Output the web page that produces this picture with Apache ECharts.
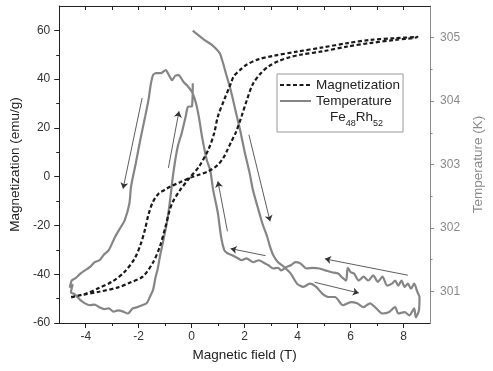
<!DOCTYPE html>
<html>
<head>
<meta charset="utf-8">
<script src="https://cdn.jsdelivr.net/npm/echarts@6/dist/echarts.min.js"></script>
<style>
html,body{margin:0;padding:0;background:#fff;}
#chart{width:493px;height:371px;}
</style>
</head>
<body>
<div id="chart"></div>
<script>
// ---- data ----
// Magnetization branch A (lower-left start, plateau near 0, steep rise at ~2 T)
const magBranchA = [[-4.55,-49.3],[-4.0,-48],[-3.5,-45.6],[-3.0,-43],[-2.55,-39.2],[-2.15,-33.5],[-1.92,-27.5],[-1.76,-21.5],[-1.63,-15.5],[-1.47,-10.5],[-1.25,-7],[-1.0,-5.3],[-0.8,-4],[-0.44,-2.3],[-0.08,-0.5],[0.28,0.8],[0.63,2.2],[0.99,4.9],[1.2,7.8],[1.35,11],[1.5,14.5],[1.68,18.5],[1.89,25],[2.07,31],[2.31,38],[2.6,42.3],[2.9,45.2],[3.3,47.5],[3.7,49],[4.1,50],[4.94,51.4],[5.89,53.4],[6.73,54.8],[7.68,56.1],[8.52,57.3]];
// Magnetization branch B (returning from high field)
const magBranchB = [[8.52,57.5],[7.68,56.8],[6.73,56.1],[5.89,54.8],[4.94,53.0],[3.98,51.3],[3.1,49.6],[2.54,48.2],[2.07,45.9],[1.83,43.8],[1.59,41.2],[1.47,38],[1.23,31.6],[0.99,24.7],[0.85,17.9],[0.63,11.1],[0.28,4.2],[-0.08,-0.5],[-0.44,-5.5],[-0.72,-10.5],[-0.85,-14.5],[-1.0,-21],[-1.2,-28.6],[-1.45,-35],[-1.85,-41],[-2.3,-43.3],[-2.75,-45.3],[-3.5,-47.2],[-4.2,-48.6],[-4.55,-49.5]];
// Temperature: field up from 0 to 8.6 T
const tempUp = [[0.04,305.11],[0.46,304.97],[0.75,304.89],[1.05,304.76],[1.17,304.62],[1.29,304.44],[1.47,304.18],[1.65,303.86],[1.83,303.54],[2.01,303.18],[2.19,302.86],[2.31,302.60],[2.49,302.33],[2.67,302.07],[2.85,301.86],[2.96,301.70],[3.08,301.57],[3.26,301.46],[3.50,301.38],[3.74,301.28],[3.98,301.12],[4.22,301.07],[4.46,301.12],[4.70,301.07],[4.94,300.96],[5.18,300.91],[5.41,300.91],[5.71,300.78],[6.01,300.83],[6.25,300.81],[6.49,300.75],[6.73,300.81],[6.97,300.73],[7.20,300.65],[7.44,300.67],[7.68,300.75],[7.80,300.65],[8.04,300.67],[8.22,300.62],[8.40,300.73],[8.46,300.59],[8.58,300.70],[8.60,300.91],[8.52,300.99]];
// Temperature: field down from 8.5 T to 1.2 T
const tempDownHigh = [[8.40,301.12],[8.28,301.04],[8.16,301.12],[8.04,301.07],[7.92,301.17],[7.80,301.09],[7.68,301.17],[7.56,301.12],[7.38,301.09],[7.20,301.23],[7.03,301.15],[6.85,301.25],[6.67,301.17],[6.49,301.23],[6.31,301.17],[6.13,301.28],[6.01,301.30],[5.89,301.37],[5.83,301.17],[5.65,301.23],[5.53,301.28],[5.29,301.30],[5.05,301.33],[4.82,301.36],[4.58,301.37],[4.34,301.36],[4.10,301.44],[3.92,301.46],[3.74,301.41],[3.56,301.38],[3.38,301.33],[3.26,301.37],[3.08,301.36],[2.90,301.41],[2.72,301.45],[2.54,301.49],[2.31,301.46],[2.07,301.52],[1.89,301.49],[1.71,301.53],[1.53,301.57],[1.35,301.60],[1.23,301.65]];
// Temperature: field down from 1.2 T to -4.6 T
const tempDownLow = [[1.11,301.86],[0.99,302.23],[0.81,302.60],[0.70,302.91],[0.57,303.07],[0.39,303.44],[0.28,303.73],[0.16,303.97],[0.03,304.13],[-0.14,304.23],[-0.32,304.31],[-0.50,304.41],[-0.62,304.40],[-0.74,304.33],[-0.86,304.41],[-0.98,304.49],[-1.16,304.44],[-1.34,304.44],[-1.46,304.41],[-1.55,304.25],[-1.63,304.02],[-1.76,303.75],[-1.94,303.39],[-2.11,303.02],[-2.29,302.65],[-2.35,302.39],[-2.53,302.12],[-2.71,301.99],[-2.89,301.86],[-3.13,301.65],[-3.31,301.58],[-3.48,301.49],[-3.66,301.46],[-3.85,301.38],[-4.03,301.33],[-4.20,301.28],[-4.38,301.21],[-4.53,301.17],[-4.60,301.06],[-4.49,301.11],[-4.56,300.98]];
// Temperature: field up from -4.5 T back to 0
const tempUpLow = [[-4.44,300.96],[-4.31,300.91],[-4.20,300.86],[-4.03,300.81],[-3.85,300.78],[-3.67,300.79],[-3.49,300.75],[-3.31,300.72],[-3.13,300.73],[-2.95,300.68],[-2.77,300.70],[-2.59,300.68],[-2.41,300.65],[-2.23,300.73],[-2.05,300.75],[-1.87,300.78],[-1.70,300.81],[-1.58,300.91],[-1.46,301.02],[-1.37,301.21],[-1.28,301.36],[-1.19,301.57],[-1.10,301.74],[-1.01,301.93],[-0.92,302.12],[-0.84,302.36],[-0.78,302.56],[-0.73,302.75],[-0.62,303.07],[-0.51,303.31],[-0.38,303.49],[-0.23,303.75],[-0.14,303.91],[0.01,303.92],[0.04,304.28]];
// Direction arrows (field T, magnetization-axis units): [from, to]
const arrows = [
  [[-1.87,32.3],[-2.59,-4.9]],
  [[-0.88,3.6],[-0.48,26.8]],
  [[1.35,-22.4],[0.99,-1.9]],
  [[2.79,-32.4],[1.47,-29.5]],
  [[2.16,17.2],[2.96,-18.3]],
  [[4.64,-43.3],[6.31,-47.7]],
  [[8.16,-40.4],[5.03,-33.7]]
];
const xTicks = [-4,-2,0,2,4,6,8];
const xMinorTicks = [-3,-1,1,3,5,7];
const xTopTicks = [-4,-3,-2,-1,0,1,2,3,4,5,6,7,8];
const yLeftTicks = [-60,-40,-20,0,20,40,60];
const yLeftMinor = [-50,-30,-10,10,30,50];
const yRightTicks = [301,302,303,304,305];
const yRightMinor = [301.5,302.5,303.5,304.5];

const magLoop = magBranchA.concat(magBranchB);
const tempLoop = tempUp.concat(tempDownHigh, tempDownLow, tempUpLow);

const FONT = 'Liberation Sans, Arial, Helvetica, sans-serif';
const DARK = '#222';
const GRAY = '#8a8a8a';

const chart = echarts.init(document.getElementById('chart'), null, {renderer:'canvas'});
const baseX = {type:'value', min:-5, max:9, splitLine:{show:false}};
const option = {
  animation:false,
  textStyle:{fontFamily:FONT},
  grid:{left:52, right:50, top:6, bottom:48, containLabel:false},
  legend:{
    data:['Magnetization','Temperature'],
    orient:'vertical', left:277, top:74,
    padding:[4,3,24,2],
    itemWidth:31, itemHeight:14, itemGap:2,
    borderColor:'#999', borderWidth:1,
    itemStyle:{opacity:0},
    textStyle:{fontSize:13.5, color:DARK, fontFamily:FONT}
  },
  xAxis:[
    Object.assign({}, baseX, {
      position:'bottom', name:'Magnetic field (T)', nameLocation:'middle', nameGap:23,
      nameTextStyle:{fontSize:13.5, color:DARK, fontFamily:FONT},
      axisLine:{onZero:false, lineStyle:{color:DARK, width:1}},
      axisTick:{show:true, customValues:xTicks, length:5, lineStyle:{color:DARK}},
      axisLabel:{customValues:xTicks, margin:8, fontSize:12, color:'#333', fontFamily:FONT}
    }),
    Object.assign({}, baseX, {
      position:'bottom', interval:2,
      axisLine:{show:false, onZero:false},
      axisTick:{show:true, customValues:xMinorTicks, length:3, lineStyle:{color:DARK}},
      axisLabel:{show:false}
    }),
    Object.assign({}, baseX, {
      position:'top', interval:1,
      axisLine:{show:true, onZero:false, lineStyle:{color:DARK, width:1}},
      axisTick:{show:true, inside:true, customValues:xTopTicks, length:4, lineStyle:{color:DARK}},
      axisLabel:{show:false}
    })
  ],
  yAxis:[
    {
      type:'value', min:-60, max:70, position:'left',
      name:'Magnetization (emu/g)', nameLocation:'middle', nameGap:26,
      nameTextStyle:{fontSize:13.5, color:DARK, fontFamily:FONT},
      splitLine:{show:false},
      axisLine:{show:true, onZero:false, lineStyle:{color:DARK, width:1}},
      axisTick:{show:true, customValues:yLeftTicks, length:5, lineStyle:{color:DARK}},
      axisLabel:{customValues:yLeftTicks, margin:9, fontSize:12, color:'#333', fontFamily:FONT}
    },
    {
      type:'value', min:-60, max:70, position:'left', splitLine:{show:false},
      axisLine:{show:false, onZero:false},
      axisTick:{show:true, customValues:yLeftMinor, length:3, lineStyle:{color:DARK}},
      axisLabel:{show:false}
    },
    {
      type:'value', min:300.5, max:305.5, position:'right',
      name:'Temperature (K)', nameLocation:'middle', nameGap:32,
      nameTextStyle:{fontSize:13.5, color:GRAY, fontFamily:FONT},
      splitLine:{show:false},
      axisLine:{show:true, onZero:false, lineStyle:{color:GRAY, width:1}},
      axisTick:{show:true, customValues:yRightTicks, length:4, lineStyle:{color:GRAY}},
      axisLabel:{customValues:yRightTicks, margin:10, fontSize:12, color:GRAY, fontFamily:FONT}
    },
    {
      type:'value', min:300.5, max:305.5, position:'right', splitLine:{show:false},
      axisLine:{show:false, onZero:false},
      axisTick:{show:true, customValues:yRightMinor, length:2.5, lineStyle:{color:GRAY}},
      axisLabel:{show:false}
    }
  ],
  series:[
    {
      name:'Magnetization', type:'line', xAxisIndex:0, yAxisIndex:0,
      data:magLoop, symbol:'none', showSymbol:false, smooth:0.3,
      lineStyle:{color:'#1a1a1a', width:2.2, type:[4,2.5]},
      itemStyle:{color:'#1a1a1a'}, z:3
    },
    {
      name:'Temperature', type:'line', xAxisIndex:0, yAxisIndex:2,
      data:tempLoop, symbol:'none', showSymbol:false, smooth:0.25,
      lineStyle:{color:'#858585', width:2.2},
      itemStyle:{color:'#858585'}, z:2
    },
    {
      type:'lines', coordinateSystem:'cartesian2d', xAxisIndex:0, yAxisIndex:0,
      symbol:['none','arrow'], symbolSize:6, silent:true,
      lineStyle:{color:'#333', width:0.8, opacity:1, curveness:0},
      data:arrows.map(a => ({coords:a})), z:4
    }
  ],
  graphic:[
    {
      type:'text', left:330, top:110, silent:true,
      style:{
        text:'{n|Fe}{s|48}{n|Rh}{s|52}',
        fill:DARK,
        rich:{
          n:{fontSize:13.5, fontFamily:FONT, lineHeight:14, verticalAlign:'top', fill:DARK},
          s:{fontSize:9, fontFamily:FONT, lineHeight:9, padding:[9,0,0,0], verticalAlign:'top', fill:DARK}
        }
      }
    }
  ]
};
chart.setOption(option);
</script>
</body>
</html>
